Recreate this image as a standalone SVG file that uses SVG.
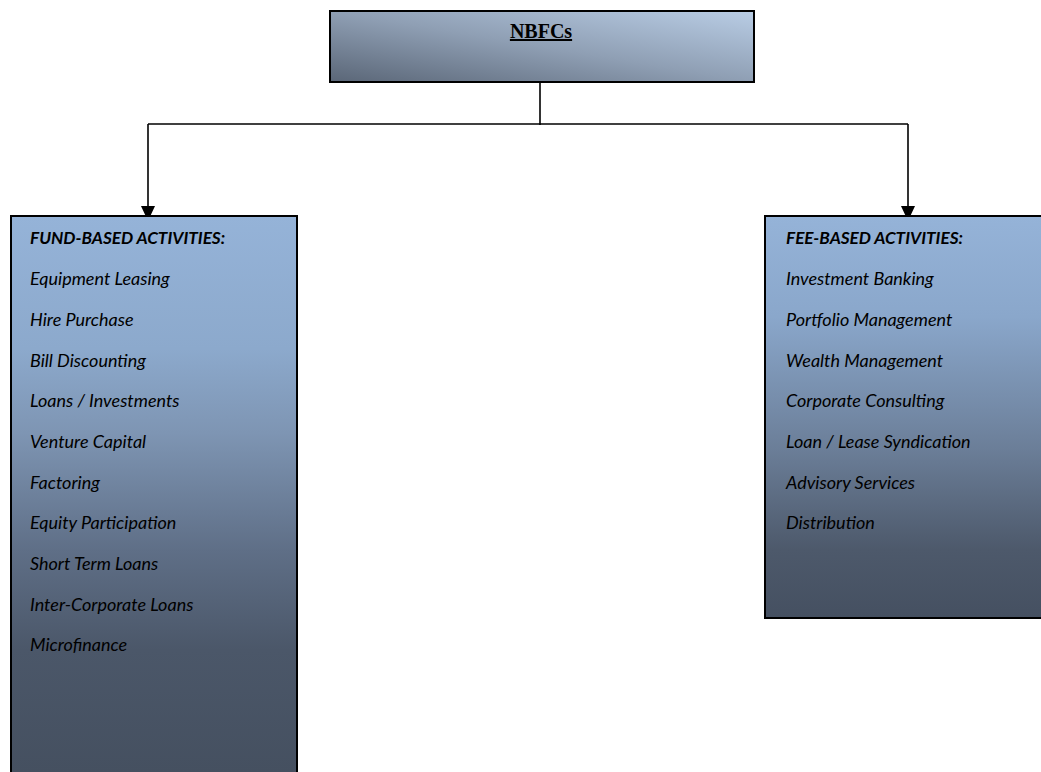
<svg xmlns="http://www.w3.org/2000/svg" width="1041" height="772" viewBox="0 0 1041 772">
<style>
.box{stroke:#000;stroke-width:2}
.item{font-family:Lato,"Liberation Sans",sans-serif;font-style:italic;font-size:18px;fill:#000}
.head{font-weight:bold;font-size:17.2px}
.conn{fill:none;stroke:#000;stroke-width:1.6}
</style>
<defs>
<linearGradient id="gTop" x1="1" y1="0" x2="0" y2="1">
<stop offset="0" stop-color="#b9cde5"/>
<stop offset="0.5" stop-color="#8f9fb4"/>
<stop offset="1" stop-color="#5a6677"/>
</linearGradient>
<linearGradient id="gL" x1="0" y1="216" x2="0" y2="772" gradientUnits="userSpaceOnUse">
<stop offset="0" stop-color="#95b3d8"/>
<stop offset="0.24" stop-color="#8ca9cc"/>
<stop offset="0.39" stop-color="#7e95b3"/>
<stop offset="0.6" stop-color="#5f6f87"/>
<stop offset="0.78" stop-color="#4b5769"/>
<stop offset="1" stop-color="#455060"/>
</linearGradient>
<linearGradient id="gR" x1="0" y1="216" x2="0" y2="618" gradientUnits="userSpaceOnUse">
<stop offset="0" stop-color="#95b3d8"/>
<stop offset="0.25" stop-color="#8aa7cb"/>
<stop offset="0.58" stop-color="#6b7e98"/>
<stop offset="0.83" stop-color="#4d596b"/>
<stop offset="1" stop-color="#455061"/>
</linearGradient>
</defs>
<g id="connectors">
<path class="conn" d="M540,82 V125"/>
<path class="conn" d="M148,124 H908"/>
<path class="conn" d="M148,124 V206" stroke-width="2"/>
<path class="conn" d="M908,124 V206" stroke-width="2"/>
<path d="M141,206 L155,206 L148,221 Z" fill="#000"/>
<path d="M901,206 L915,206 L908,221 Z" fill="#000"/>
</g>
<g id="nbfcs">
<rect class="box" x="330" y="11" width="424" height="71" fill="url(#gTop)"/>
<text x="541" y="38" text-anchor="middle" font-family="Liberation Serif,serif" font-weight="bold" font-size="20" text-decoration="underline">NBFCs</text>
</g>
<g id="fund">
<rect class="box" x="11" y="216" width="286" height="570" fill="url(#gL)"/>
<text class="item head" x="30" y="244">FUND-BASED ACTIVITIES:</text>
<text class="item" x="30" y="285">Equipment Leasing</text>
<text class="item" x="30" y="326">Hire Purchase</text>
<text class="item" x="30" y="367">Bill Discounting</text>
<text class="item" x="30" y="407">Loans / Investments</text>
<text class="item" x="30" y="448">Venture Capital</text>
<text class="item" x="30" y="489">Factoring</text>
<text class="item" x="30" y="529">Equity Participation</text>
<text class="item" x="30" y="570">Short Term Loans</text>
<text class="item" x="30" y="611">Inter-Corporate Loans</text>
<text class="item" x="30" y="651">Microfinance</text>
</g>
<g id="fee">
<rect class="box" x="765" y="216" width="290" height="402" fill="url(#gR)"/>
<text class="item head" x="786" y="244">FEE-BASED ACTIVITIES:</text>
<text class="item" x="786" y="285">Investment Banking</text>
<text class="item" x="786" y="326">Portfolio Management</text>
<text class="item" x="786" y="367">Wealth Management</text>
<text class="item" x="786" y="407">Corporate Consulting</text>
<text class="item" x="786" y="448">Loan / Lease Syndication</text>
<text class="item" x="786" y="489">Advisory Services</text>
<text class="item" x="786" y="529">Distribution</text>
</g>
</svg>
